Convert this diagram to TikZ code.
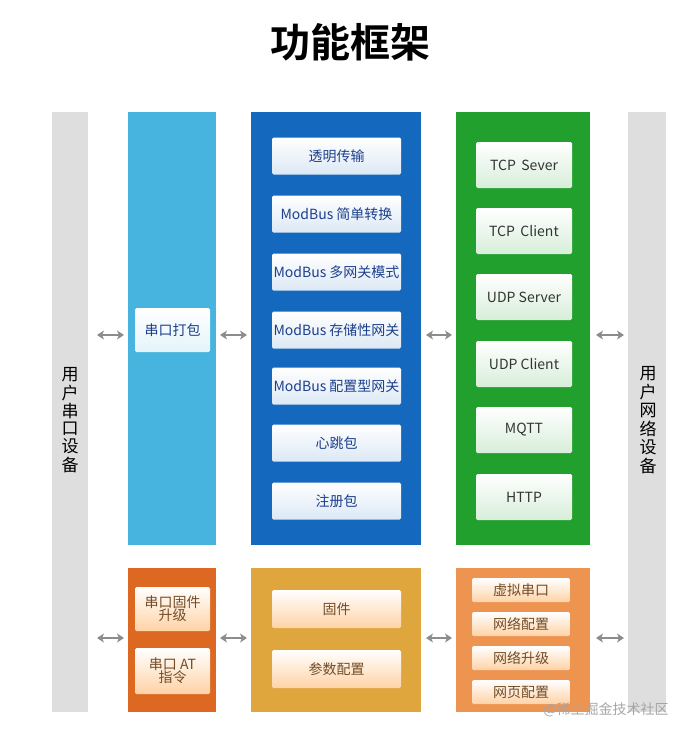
\documentclass[tikz,border=0pt]{standalone}
\usepackage{fontspec}
\usetikzlibrary{arrows.meta}
\setmainfont{Noto Sans CJK SC}
\newfontfamily\cjkb{Noto Sans CJK SC Bold}
\definecolor{cgray}{HTML}{DEDEDE}
\definecolor{clb}{HTML}{46B4DE}
\definecolor{cblue}{HTML}{1468BE}
\definecolor{cgreen}{HTML}{22A02E}
\definecolor{cdor}{HTML}{DD6822}
\definecolor{cgold}{HTML}{DFA63E}
\definecolor{cor}{HTML}{EE9451}
\definecolor{ctxtb}{HTML}{1D3F8C}
\begin{document}
\begin{tikzpicture}[x=1pt,y=-1pt,
  wbox/.style={draw=none,rounded corners=1.5pt,top color=white,font=\fontsize{14}{16}\selectfont,align=center,inner sep=0pt},
  bbox/.style={wbox,bottom color=cblue!15,text=ctxtb,minimum width=129,minimum height=37},
  gbox/.style={wbox,bottom color=cgreen!18,text=black!80,minimum width=96,minimum height=46},
  obox/.style={wbox,bottom color=orange!35,text=brown!60!black},
  arr/.style={{Stealth[length=7pt,width=9pt,inset=2pt]}-{Stealth[length=7pt,width=9pt,inset=2pt]},line width=2.4pt,draw=black!45}]
\useasboundingbox (0,0) rectangle (700,739);
\node at (350,42) {\cjkb\fontsize{40}{44}\selectfont 功能框架};
\fill[cgray] (52,112) rectangle (88,712);
\fill[cgray] (628,112) rectangle (666,712);
\node (ul) at (70,420) {\fontsize{17}{19}\selectfont\shortstack{用\\户\\串\\口\\设\\备}};
\node (ur) at (648,420) {\fontsize{17}{19}\selectfont\shortstack{用\\户\\网\\络\\设\\备}};
\coordinate (gl) at (88,335); \coordinate (gr) at (628,335);
\coordinate (gl2) at (88,638); \coordinate (gr2) at (628,638);
\fill[clb] (128,112) rectangle (216,545);
\fill[cblue] (251,112) rectangle (421,545);
\fill[cgreen] (456,112) rectangle (590,545);
\coordinate (c1l) at (128,335); \coordinate (c1r) at (216,335);
\coordinate (c2l) at (251,335); \coordinate (c2r) at (421,335);
\coordinate (c3l) at (456,335); \coordinate (c3r) at (590,335);
\node[wbox,bottom color=clb!15,text=ctxtb,minimum width=75,minimum height=44] (p) at (172.5,330) {串口打包};
\node[bbox] (b1) at (336.5,156) {透明传输};
\node[bbox] (b2) at (336.5,214) {ModBus 简单转换};
\node[bbox] (b3) at (336.5,272) {ModBus 多网关模式};
\node[bbox] (b4) at (336.5,330) {ModBus 存储性网关};
\node[bbox] (b5) at (336.5,386) {ModBus 配置型网关};
\node[bbox] (b6) at (336.5,443) {心跳包};
\node[bbox] (b7) at (336.5,501) {注册包};
\node[gbox] (t1) at (524,165) {TCP\, Sever};
\node[gbox] (t2) at (524,231) {TCP\, Client};
\node[gbox] (t3) at (524,297) {UDP Server};
\node[gbox] (t4) at (524,364) {UDP Client};
\node[gbox] (t5) at (524,430) {MQTT};
\node[gbox] (t6) at (524,497) {HTTP};
\fill[cdor] (128,568) rectangle (216,712);
\fill[cgold] (251,568) rectangle (421,712);
\fill[cor] (456,568) rectangle (590,712);
\coordinate (d1l) at (128,638); \coordinate (d1r) at (216,638);
\coordinate (d2l) at (251,638); \coordinate (d2r) at (421,638);
\coordinate (d3l) at (456,638); \coordinate (d3r) at (590,638);
\node[obox,minimum width=75,minimum height=44] (s1) at (172.5,609) {串口固件\\[-3pt]升级};
\node[obox,minimum width=75,minimum height=46] (s2) at (172.5,671) {串口 AT\\[-3pt]指令};
\node[obox,minimum width=129,minimum height=38] (f1) at (336.5,609) {固件};
\node[obox,minimum width=129,minimum height=38] (f2) at (336.5,669) {参数配置};
\node[obox,minimum width=98,minimum height=24] (n1) at (521,590) {虚拟串口};
\node[obox,minimum width=98,minimum height=24] (n2) at (521,624) {网络配置};
\node[obox,minimum width=98,minimum height=24] (n3) at (521,658) {网络升级};
\node[obox,minimum width=98,minimum height=24] (n4) at (521,692) {网页配置};
\draw[arr] ([xshift=9]gl) -- ([xshift=-4]c1l);
\draw[arr] ([xshift=4]c1r) -- ([xshift=-4]c2l);
\draw[arr] ([xshift=5]c2r) -- ([xshift=-4]c3l);
\draw[arr] ([xshift=6]c3r) -- ([xshift=-4]gr);
\draw[arr] ([xshift=9]gl2) -- ([xshift=-4]d1l);
\draw[arr] ([xshift=4]d1r) -- ([xshift=-4]d2l);
\draw[arr] ([xshift=5]d2r) -- ([xshift=-4]d3l);
\draw[arr] ([xshift=6]d3r) -- ([xshift=-4]gr2);
\node[text=black!35,font=\fontsize{14}{16}\selectfont] (wm) at (606,710) {@稀土掘金技术社区};
\end{tikzpicture}
\end{document}
